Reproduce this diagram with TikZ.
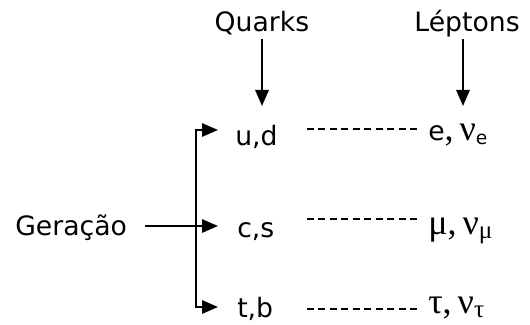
\documentclass[tikz,border=0pt]{standalone}
\usepackage{fontspec}
\setmainfont{DejaVu Sans}
\newfontfamily\grk[Scale=1.35]{Liberation Serif}
\usetikzlibrary{arrows.meta}
\newcommand{\gr}[1]{{\grk #1}}

\begin{document}
\begin{tikzpicture}[x=0.75pt, y=-0.75pt]
    % Styles
    \tikzset{
      tri/.tip={Triangle[length=12pt, width=10pt]},
      lbl/.style={font=\fontsize{20}{24}\selectfont, inner sep=0pt, anchor=base west},
      arr/.style={line width=1.5pt, -tri},
      dline/.style={line width=1.5pt, dash pattern=on 5.1pt off 3.5pt},
    }
    \useasboundingbox (0,0) rectangle (530,324);

    % Headings
    \node[lbl, anchor=base] (quarks) at (262,32) {Quarks};
    \node[lbl, anchor=base] (leptons) at (467,32) {Léptons};

    % Quarks
    \node[lbl] (ud) at (235,145) {u,d};
    \node[lbl] (cs) at (237,237) {c,s};
    \node[lbl] (tb) at (237,317) {t,b};

    % Leptons
    \node[lbl] (e) at (428,140) {e\gr{,\,ν}\textsubscript{e}};
    \node[lbl] (mu) at (428,234) {\gr{μ,\,ν}\textsubscript{\gr{μ}}};
    \node[lbl] (tau) at (428,313) {\gr{τ,\,ν}\textsubscript{\gr{τ}}};

    % Generation
    \node[lbl] (gen) at (15,235) {Geração};

    % Arrow tips and dash ends
    \coordinate (qtip) at (262,106);
    \coordinate (ltip) at (463,106);
    \coordinate (p1) at (218,130);
    \coordinate (p2) at (218,226);
    \coordinate (p3) at (218,307);
    \coordinate (br) at (196,226);
    \coordinate (d1a) at (307,129);
    \coordinate (d1b) at (417,129);
    \coordinate (d2a) at (307,219);
    \coordinate (d2b) at (417,219);
    \coordinate (d3a) at (307,309);
    \coordinate (d3b) at (417,309);

    % Edges
    \draw[arr, shorten <=5pt] (qtip |- quarks.base) -- (qtip);
    \draw[arr, shorten <=5pt] (ltip |- leptons.base) -- (ltip);

    \draw[arr, tri-tri] (p1) -| (br) |- (p3);
    \draw[arr, shorten <=13.5pt] (gen.east |- p2) -- (p2);

    \draw[dline] (d1a) -- (d1b);
    \draw[dline] (d2a) -- (d2b);
    \draw[dline] (d3a) -- (d3b);

\end{tikzpicture}
\end{document}
